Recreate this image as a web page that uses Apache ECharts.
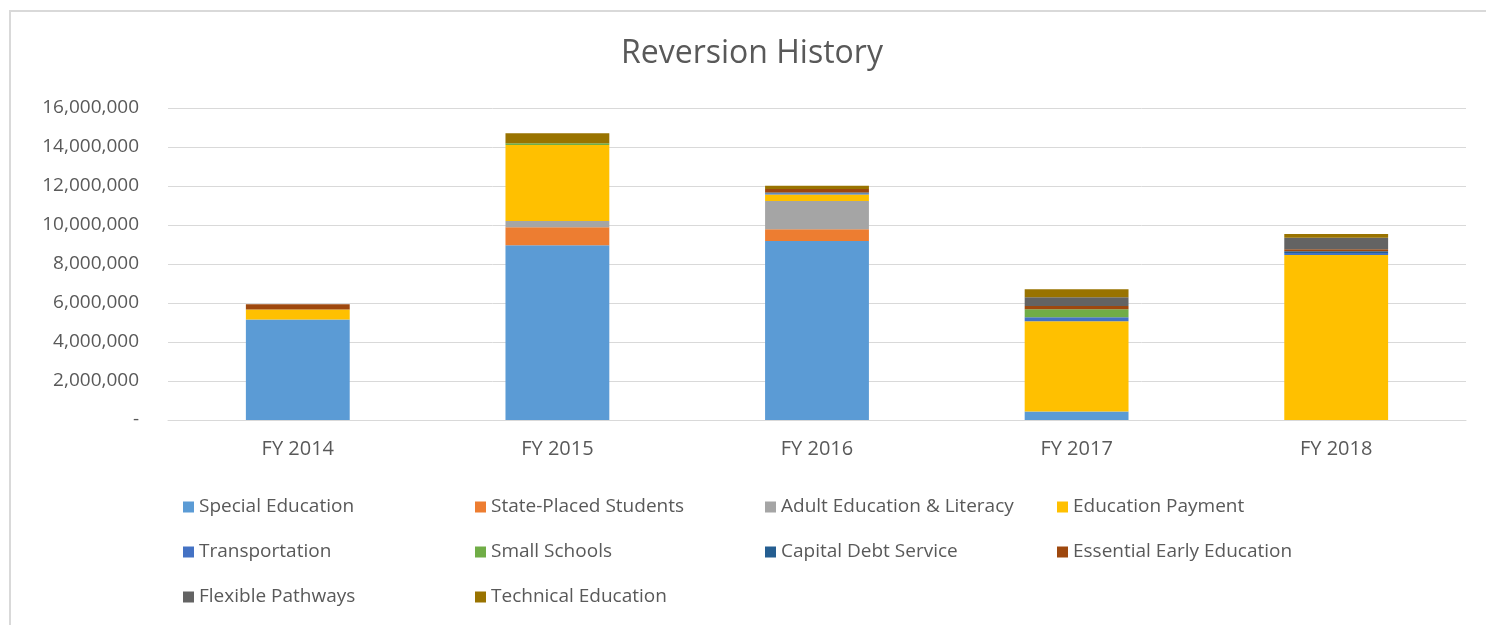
<!DOCTYPE html>
<html>
<head>
<meta charset="utf-8">
<script src="https://cdn.jsdelivr.net/npm/echarts@6/dist/echarts.min.js"></script>
<style>
  html, body { margin: 0; padding: 0; background: #fff; }
  #chart { width: 1486px; height: 625px; }
</style>
</head>
<body>
<div id="chart"></div>
<script>
var years = ['FY 2014', 'FY 2015', 'FY 2016', 'FY 2017', 'FY 2018'];

var specialEducation   = [5160000, 8960000, 9180000, 430000, 0];
var statePlaced        = [0, 920000, 600000, 0, 0];
var adultEducation     = [0, 320000, 1450000, 0, 0];
var educationPayment   = [510000, 3900000, 340000, 4640000, 8460000];
var transportation     = [0, 0, 50000, 200000, 100000];
var smallSchools       = [0, 90000, 0, 410000, 0];
var capitalDebt        = [0, 0, 50000, 0, 100000];
var essentialEarly     = [270000, 0, 170000, 170000, 100000];
var flexiblePathways   = [0, 0, 0, 450000, 580000];
var technicalEducation = [0, 510000, 170000, 410000, 200000];

var seriesDefs = [
  ['Special Education', specialEducation, '#5B9BD5'],
  ['State-Placed Students', statePlaced, '#ED7D31'],
  ['Adult Education & Literacy', adultEducation, '#A5A5A5'],
  ['Education Payment', educationPayment, '#FFC000'],
  ['Transportation', transportation, '#4472C4'],
  ['Small Schools', smallSchools, '#70AD47'],
  ['Capital Debt Service', capitalDebt, '#255E91'],
  ['Essential Early Education', essentialEarly, '#9E480E'],
  ['Flexible Pathways', flexiblePathways, '#636363'],
  ['Technical Education', technicalEducation, '#997300']
];

var font = '"Open Sans", "Noto Sans", sans-serif';
var textColor = '#595959';

var chart = echarts.init(document.getElementById('chart'));

function legendCol(left, names) {
  return {
    orient: 'vertical',
    left: left,
    top: 491,
    itemWidth: 11,
    itemHeight: 11,
    itemGap: 23,
    icon: 'rect',
    data: names,
    textStyle: { color: textColor, fontSize: 19, fontFamily: font, lineHeight: 22 }
  };
}

var option = {
  animation: false,
  backgroundColor: '#fff',
  title: {
    text: 'Reversion History',
    left: 616,
    top: 33,
    textStyle: { color: textColor, fontSize: 32, fontWeight: 'normal', fontFamily: font }
  },
  graphic: [{
    type: 'rect',
    shape: { x: 10, y: 11, width: 1490, height: 640 },
    style: { fill: 'none', stroke: '#d9d9d9', lineWidth: 2 }
  }],
  legend: [
    legendCol(178, ['Special Education', 'Transportation', 'Flexible Pathways']),
    legendCol(470, ['State-Placed Students', 'Small Schools', 'Technical Education']),
    legendCol(760, ['Adult Education & Literacy', 'Capital Debt Service']),
    legendCol(1052, ['Education Payment', 'Essential Early Education'])
  ],
  grid: { left: 168, right: 20, top: 108, bottom: 205 },
  xAxis: {
    type: 'category',
    data: years,
    axisTick: { show: false },
    axisLine: { lineStyle: { color: '#d9d9d9', width: 1 } },
    axisLabel: { color: textColor, fontSize: 20, fontFamily: font, margin: 19 }
  },
  yAxis: {
    type: 'value',
    min: 0,
    max: 16000000,
    interval: 2000000,
    axisLine: { show: false },
    axisTick: { show: false },
    splitLine: { lineStyle: { color: '#d9d9d9', width: 1 } },
    axisLabel: {
      color: textColor, fontSize: 19, fontFamily: font, margin: 29,
      formatter: function (v) {
        return v === 0 ? '-' : v.toString().replace(/\B(?=(\d{3})+(?!\d))/g, ',');
      }
    }
  },
  series: seriesDefs.map(function (d) {
    return {
      name: d[0],
      type: 'bar',
      stack: 'total',
      barWidth: '40%',
      data: d[1],
      itemStyle: { color: d[2] }
    };
  })
};

chart.setOption(option);
</script>
</body>
</html>
